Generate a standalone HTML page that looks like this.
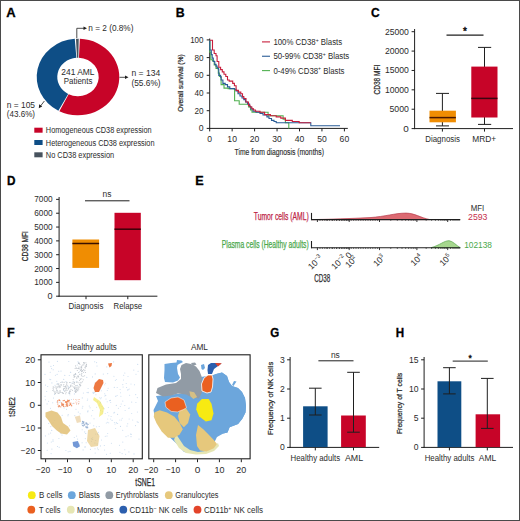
<!DOCTYPE html>
<html><head><meta charset="utf-8"><style>
html,body{margin:0;padding:0;background:#fff;}
#fig{position:relative;width:520px;height:521px;box-sizing:border-box;border:1px solid #4a4a4a;overflow:hidden;background:#fff;}
svg{position:absolute;left:-1px;top:-1px;}
text{font-family:"Liberation Sans",sans-serif;}
</style></head><body><div id="fig">
<svg width="520" height="521" viewBox="0 0 520 521">
<text x="6.30" y="17.10" font-size="12.3" text-anchor="start" fill="#000" stroke="#000" stroke-width="0.3" font-weight="bold" textLength="9.40" lengthAdjust="spacingAndGlyphs" >A</text>
<text x="175.70" y="17.00" font-size="12.3" text-anchor="start" fill="#000" stroke="#000" stroke-width="0.3" font-weight="bold" textLength="8.90" lengthAdjust="spacingAndGlyphs" >B</text>
<text x="371.00" y="17.10" font-size="12.3" text-anchor="start" fill="#000" stroke="#000" stroke-width="0.3" font-weight="bold" textLength="8.70" lengthAdjust="spacingAndGlyphs" >C</text>
<text x="7.10" y="185.10" font-size="12.3" text-anchor="start" fill="#000" stroke="#000" stroke-width="0.3" font-weight="bold" textLength="8.50" lengthAdjust="spacingAndGlyphs" >D</text>
<text x="195.20" y="185.10" font-size="12.3" text-anchor="start" fill="#000" stroke="#000" stroke-width="0.3" font-weight="bold" textLength="8.40" lengthAdjust="spacingAndGlyphs" >E</text>
<text x="6.90" y="336.80" font-size="12.3" text-anchor="start" fill="#000" stroke="#000" stroke-width="0.3" font-weight="bold" textLength="7.70" lengthAdjust="spacingAndGlyphs" >F</text>
<text x="270.30" y="336.90" font-size="12.3" text-anchor="start" fill="#000" stroke="#000" stroke-width="0.3" font-weight="bold" textLength="9.00" lengthAdjust="spacingAndGlyphs" >G</text>
<text x="395.70" y="336.90" font-size="12.3" text-anchor="start" fill="#000" stroke="#000" stroke-width="0.3" font-weight="bold" textLength="8.40" lengthAdjust="spacingAndGlyphs" >H</text>
<g transform="translate(0 5.54) scale(1 0.928)">
<path d="M79.87,35.74 A41.3,41.3 0 1 1 59.38,113.86 L68.67,95.48 A20.7,20.7 0 1 0 78.94,56.32 Z" fill="#c70428"/>
<path d="M58.36,113.33 A41.3,41.3 0 0 1 74.76,35.83 L76.38,56.36 A20.7,20.7 0 0 0 68.15,95.21 Z" fill="#0e4e86"/>
<path d="M75.98,35.75 A41.3,41.3 0 0 1 78.72,35.71 L78.36,56.30 A20.7,20.7 0 0 0 76.99,56.32 Z" fill="#48535e"/>
</g>
<text x="61.35" y="75.30" font-size="8.99" text-anchor="start" fill="#2b2b2b" textLength="33.20" lengthAdjust="spacingAndGlyphs" >241 AML</text>
<text x="63.75" y="84.40" font-size="8.99" text-anchor="start" fill="#2b2b2b" textLength="28.60" lengthAdjust="spacingAndGlyphs" >Patients</text>
<path d="M76.8,38 V28.3 H84.5" fill="none" stroke="#1f1f1f" stroke-width="0.8"/>
<path d="M87,28.3 L83.5,26.6 L83.5,30 Z" fill="#1f1f1f"/>
<text x="88.35" y="30.50" font-size="8.99" text-anchor="start" fill="#2b2b2b" textLength="45.10" lengthAdjust="spacingAndGlyphs" >n = 2 (0.8%)</text>
<path d="M119.5,77.3 H126" fill="none" stroke="#1f1f1f" stroke-width="0.8"/>
<path d="M128.5,77.3 L125,75.6 L125,79 Z" fill="#1f1f1f"/>
<text x="131.45" y="76.00" font-size="8.99" text-anchor="start" fill="#2b2b2b" textLength="28.80" lengthAdjust="spacingAndGlyphs" >n = 134</text>
<text x="131.45" y="85.50" font-size="8.99" text-anchor="start" fill="#2b2b2b" textLength="29.20" lengthAdjust="spacingAndGlyphs" >(55.6%)</text>
<path d="M44.4,101 L40.5,106" fill="none" stroke="#1f1f1f" stroke-width="0.8"/>
<path d="M38.8,108.2 L39.2,104.2 L42.2,106.6 Z" fill="#1f1f1f"/>
<text x="6.75" y="108.00" font-size="8.99" text-anchor="start" fill="#2b2b2b" textLength="28.30" lengthAdjust="spacingAndGlyphs" >n = 105</text>
<text x="6.75" y="117.30" font-size="8.99" text-anchor="start" fill="#2b2b2b" textLength="28.30" lengthAdjust="spacingAndGlyphs" >(43.6%)</text>
<rect x="34.30" y="127.70" width="8.30" height="5.00" fill="#c70428"/>
<text x="45.85" y="133.20" font-size="8.99" text-anchor="start" fill="#2b2b2b" textLength="105.80" lengthAdjust="spacingAndGlyphs" >Homogeneous CD38 expression</text>
<rect x="34.30" y="140.00" width="8.30" height="5.00" fill="#0e4e86"/>
<text x="45.85" y="145.50" font-size="8.99" text-anchor="start" fill="#2b2b2b" textLength="108.70" lengthAdjust="spacingAndGlyphs" >Heterogeneous CD38 expression</text>
<rect x="34.30" y="152.30" width="8.30" height="5.00" fill="#48535e"/>
<text x="45.85" y="157.80" font-size="8.99" text-anchor="start" fill="#2b2b2b" textLength="68.30" lengthAdjust="spacingAndGlyphs" >No CD38 expression</text>
<line x1="209.70" y1="38.50" x2="209.70" y2="128.90" stroke="#1f1f1f" stroke-width="1"/>
<line x1="209.20" y1="128.40" x2="347.80" y2="128.40" stroke="#1f1f1f" stroke-width="1"/>
<line x1="206.70" y1="128.40" x2="209.70" y2="128.40" stroke="#1f1f1f" stroke-width="1"/>
<text x="203.50" y="131.40" font-size="9.2" text-anchor="end" fill="#2b2b2b" textLength="4.85" lengthAdjust="spacingAndGlyphs" >0</text>
<line x1="206.70" y1="110.70" x2="209.70" y2="110.70" stroke="#1f1f1f" stroke-width="1"/>
<text x="203.50" y="113.70" font-size="9.2" text-anchor="end" fill="#2b2b2b" textLength="9.10" lengthAdjust="spacingAndGlyphs" >20</text>
<line x1="206.70" y1="93.00" x2="209.70" y2="93.00" stroke="#1f1f1f" stroke-width="1"/>
<text x="203.50" y="96.00" font-size="9.2" text-anchor="end" fill="#2b2b2b" textLength="9.10" lengthAdjust="spacingAndGlyphs" >40</text>
<line x1="206.70" y1="75.30" x2="209.70" y2="75.30" stroke="#1f1f1f" stroke-width="1"/>
<text x="203.50" y="78.30" font-size="9.2" text-anchor="end" fill="#2b2b2b" textLength="9.10" lengthAdjust="spacingAndGlyphs" >60</text>
<line x1="206.70" y1="57.60" x2="209.70" y2="57.60" stroke="#1f1f1f" stroke-width="1"/>
<text x="203.50" y="60.60" font-size="9.2" text-anchor="end" fill="#2b2b2b" textLength="9.10" lengthAdjust="spacingAndGlyphs" >80</text>
<line x1="206.70" y1="39.90" x2="209.70" y2="39.90" stroke="#1f1f1f" stroke-width="1"/>
<text x="203.50" y="42.90" font-size="9.2" text-anchor="end" fill="#2b2b2b" textLength="13.35" lengthAdjust="spacingAndGlyphs" >100</text>
<line x1="209.70" y1="128.40" x2="209.70" y2="131.40" stroke="#1f1f1f" stroke-width="1"/>
<text x="209.70" y="141.80" font-size="9.2" text-anchor="middle" fill="#2b2b2b" textLength="4.78" lengthAdjust="spacingAndGlyphs" >0</text>
<line x1="232.15" y1="128.40" x2="232.15" y2="131.40" stroke="#1f1f1f" stroke-width="1"/>
<text x="232.15" y="141.80" font-size="9.2" text-anchor="middle" fill="#2b2b2b" textLength="9.57" lengthAdjust="spacingAndGlyphs" >10</text>
<line x1="254.60" y1="128.40" x2="254.60" y2="131.40" stroke="#1f1f1f" stroke-width="1"/>
<text x="254.60" y="141.80" font-size="9.2" text-anchor="middle" fill="#2b2b2b" textLength="9.57" lengthAdjust="spacingAndGlyphs" >20</text>
<line x1="277.05" y1="128.40" x2="277.05" y2="131.40" stroke="#1f1f1f" stroke-width="1"/>
<text x="277.05" y="141.80" font-size="9.2" text-anchor="middle" fill="#2b2b2b" textLength="9.57" lengthAdjust="spacingAndGlyphs" >30</text>
<line x1="299.50" y1="128.40" x2="299.50" y2="131.40" stroke="#1f1f1f" stroke-width="1"/>
<text x="299.50" y="141.80" font-size="9.2" text-anchor="middle" fill="#2b2b2b" textLength="9.57" lengthAdjust="spacingAndGlyphs" >40</text>
<line x1="321.95" y1="128.40" x2="321.95" y2="131.40" stroke="#1f1f1f" stroke-width="1"/>
<text x="321.95" y="141.80" font-size="9.2" text-anchor="middle" fill="#2b2b2b" textLength="9.57" lengthAdjust="spacingAndGlyphs" >50</text>
<line x1="344.40" y1="128.40" x2="344.40" y2="131.40" stroke="#1f1f1f" stroke-width="1"/>
<text x="344.40" y="141.80" font-size="9.2" text-anchor="middle" fill="#2b2b2b" textLength="9.57" lengthAdjust="spacingAndGlyphs" >60</text>
<text x="183.01" y="83.10" font-size="8.1" text-anchor="middle" fill="#2b2b2b" stroke="#2b2b2b" stroke-width="0.25" textLength="57.50" lengthAdjust="spacingAndGlyphs" transform="rotate(-90 183.01 83.10)" >Overall survival (%)</text>
<text x="234.55" y="154.60" font-size="9.63" text-anchor="start" fill="#2b2b2b" stroke="#2b2b2b" stroke-width="0.15" textLength="89.40" lengthAdjust="spacingAndGlyphs" >Time from diagnosis (months)</text>
<path d="M209.8,40.2 V52.3 H210.8 V59.8 H212.5 V61 H214.2 V65 H216 V68.4 H218.3 V73.1 H219.4 V76.5 H221.1 V84.6 H224 V88.1 H228.1 V88.6 H234.6 V100.8 H239.2 V104.2 H248.5 V107 H250.5 V110 H252 V112.3 H268.1 V115.8 H283.1 V119.2 H285.4 V122.7 H288.8 V128.4" fill="none" stroke="#52b152" stroke-width="1.1"/>
<path d="M209.8,40.2 V50 H211.3 V54.6 H212.2 V58.1 H213.3 V61.5 H214.8 V64.4 H216 V66.1 H217.1 V67.9 H218.3 V69 H218.8 V75.4 H220.6 V77.1 H221.1 V80 H222.9 V83.4 H225.2 V84.6 H227.5 V86.9 H229.8 V88.6 H234.4 V89.2 H236 V91 H238 V93.8 H240 V96 H242 V98 H243.8 V99.6 H245.5 V102 H247.5 V104 H249.6 V106.5 H251 V109 H253 V111.2 H256 V112.3 H260 V113.5 H263 V115 H266.9 V116.9 H269 V118.5 H271.5 V120.4 H274 V121.5 H276.2 V122.7 H310.8 V125.8 H340" fill="none" stroke="#2a5c96" stroke-width="1.1"/>
<path d="M209.8,40.2 H212.5 V50 H214.2 V53.5 H216 V55.8 H217.1 V61.5 H218.8 V67.3 H220.6 V69.6 H222.3 V71.9 H224 V74.2 H225.8 V76.5 H227.5 V80 H229.2 V81.1 H232.7 V83.4 H234.4 V85.7 H236.1 V90.4 H238.4 V92.1 H240.8 V93.8 H242.5 V96.5 H243.8 V98.5 H246 V102 H248.5 V105.4 H250 V107 H251.9 V108.8 H253.5 V110 H255.4 V111.2 H260 V112.3 H264.6 V114.6 H270.4 V115.8 H276.2 V116.9 H280.8 V118.1 H285.4 V120.4 H292.3 V121.5 H299.2 V122.7 H310.8" fill="none" stroke="#c81e3c" stroke-width="1.1"/>
<line x1="262.00" y1="41.90" x2="270.00" y2="41.90" stroke="#c81e3c" stroke-width="1.1"/>
<text x="273.4" y="44.90" font-size="8.4" fill="#2b2b2b"  textLength="68.8" lengthAdjust="spacingAndGlyphs">100% CD38<tspan font-size="5.5" dy="-3.2">+</tspan><tspan dy="3.2"> Blasts</tspan></text>
<line x1="262.00" y1="56.25" x2="270.00" y2="56.25" stroke="#2a5c96" stroke-width="1.1"/>
<text x="273.4" y="59.25" font-size="8.4" fill="#2b2b2b"  textLength="75.9" lengthAdjust="spacingAndGlyphs">50-99% CD38<tspan font-size="5.5" dy="-3.2">+</tspan><tspan dy="3.2"> Blasts</tspan></text>
<line x1="262.00" y1="70.60" x2="270.00" y2="70.60" stroke="#52b152" stroke-width="1.1"/>
<text x="273.4" y="73.60" font-size="8.4" fill="#2b2b2b"  textLength="71.1" lengthAdjust="spacingAndGlyphs">0-49% CD38<tspan font-size="5.5" dy="-3.2">+</tspan><tspan dy="3.2"> Blasts</tspan></text>
<line x1="414.60" y1="29.00" x2="414.60" y2="129.10" stroke="#1f1f1f" stroke-width="1"/>
<line x1="414.10" y1="128.60" x2="513.00" y2="128.60" stroke="#1f1f1f" stroke-width="1"/>
<line x1="411.60" y1="128.60" x2="414.60" y2="128.60" stroke="#1f1f1f" stroke-width="1"/>
<text x="408.90" y="131.60" font-size="9.2" text-anchor="end" fill="#2b2b2b" textLength="5.52" lengthAdjust="spacingAndGlyphs" >0</text>
<line x1="411.60" y1="109.22" x2="414.60" y2="109.22" stroke="#1f1f1f" stroke-width="1"/>
<text x="408.90" y="112.22" font-size="9.2" text-anchor="end" fill="#2b2b2b" textLength="19.38" lengthAdjust="spacingAndGlyphs" >5000</text>
<line x1="411.60" y1="89.84" x2="414.60" y2="89.84" stroke="#1f1f1f" stroke-width="1"/>
<text x="408.90" y="92.84" font-size="9.2" text-anchor="end" fill="#2b2b2b" textLength="24.00" lengthAdjust="spacingAndGlyphs" >10000</text>
<line x1="411.60" y1="70.46" x2="414.60" y2="70.46" stroke="#1f1f1f" stroke-width="1"/>
<text x="408.90" y="73.46" font-size="9.2" text-anchor="end" fill="#2b2b2b" textLength="24.00" lengthAdjust="spacingAndGlyphs" >15000</text>
<line x1="411.60" y1="51.08" x2="414.60" y2="51.08" stroke="#1f1f1f" stroke-width="1"/>
<text x="408.90" y="54.08" font-size="9.2" text-anchor="end" fill="#2b2b2b" textLength="24.00" lengthAdjust="spacingAndGlyphs" >20000</text>
<line x1="411.60" y1="31.70" x2="414.60" y2="31.70" stroke="#1f1f1f" stroke-width="1"/>
<text x="408.90" y="34.70" font-size="9.2" text-anchor="end" fill="#2b2b2b" textLength="24.00" lengthAdjust="spacingAndGlyphs" >25000</text>
<text x="379.61" y="79.60" font-size="9.2" text-anchor="middle" fill="#2b2b2b" stroke="#2b2b2b" stroke-width="0.25" textLength="29.70" lengthAdjust="spacingAndGlyphs" transform="rotate(-90 379.61 79.60)" >CD38 MFI</text>
<line x1="442.40" y1="93.40" x2="442.40" y2="125.90" stroke="#1f1f1f" stroke-width="1"/>
<line x1="436.00" y1="93.40" x2="449.00" y2="93.40" stroke="#1f1f1f" stroke-width="1"/>
<line x1="436.00" y1="125.90" x2="449.00" y2="125.90" stroke="#1f1f1f" stroke-width="1"/>
<rect x="429.50" y="110.70" width="26.40" height="11.60" fill="#f08d02"/>
<line x1="429.50" y1="117.60" x2="455.90" y2="117.60" stroke="#4a1800" stroke-width="1.5"/>
<line x1="484.50" y1="47.40" x2="484.50" y2="124.40" stroke="#1f1f1f" stroke-width="1"/>
<line x1="478.00" y1="47.40" x2="491.20" y2="47.40" stroke="#1f1f1f" stroke-width="1"/>
<line x1="478.00" y1="124.40" x2="491.20" y2="124.40" stroke="#1f1f1f" stroke-width="1"/>
<rect x="471.30" y="66.60" width="26.20" height="50.90" fill="#c70428"/>
<line x1="471.30" y1="98.40" x2="497.50" y2="98.40" stroke="#3a0510" stroke-width="1.5"/>
<line x1="442.40" y1="128.60" x2="442.40" y2="131.60" stroke="#1f1f1f" stroke-width="1"/>
<line x1="484.50" y1="128.60" x2="484.50" y2="131.60" stroke="#1f1f1f" stroke-width="1"/>
<text x="425.25" y="141.80" font-size="9.2" text-anchor="start" fill="#2b2b2b" textLength="34.70" lengthAdjust="spacingAndGlyphs" >Diagnosis</text>
<text x="472.35" y="141.80" font-size="9.2" text-anchor="start" fill="#2b2b2b" textLength="23.90" lengthAdjust="spacingAndGlyphs" >MRD+</text>
<line x1="446.50" y1="35.10" x2="483.50" y2="35.10" stroke="#1f1f1f" stroke-width="1.1"/>
<text x="465.00" y="34.60" font-size="10" text-anchor="middle" fill="#111" stroke="#111" stroke-width="0.45" >*</text>
<line x1="59.10" y1="197.00" x2="59.10" y2="296.70" stroke="#1f1f1f" stroke-width="1"/>
<line x1="58.60" y1="296.20" x2="157.40" y2="296.20" stroke="#1f1f1f" stroke-width="1"/>
<line x1="56.10" y1="296.20" x2="59.10" y2="296.20" stroke="#1f1f1f" stroke-width="1"/>
<text x="52.60" y="299.20" font-size="9.2" text-anchor="end" fill="#2b2b2b" textLength="5.05" lengthAdjust="spacingAndGlyphs" >0</text>
<line x1="56.10" y1="282.37" x2="59.10" y2="282.37" stroke="#1f1f1f" stroke-width="1"/>
<text x="52.60" y="285.37" font-size="9.2" text-anchor="end" fill="#2b2b2b" textLength="18.40" lengthAdjust="spacingAndGlyphs" >1000</text>
<line x1="56.10" y1="268.54" x2="59.10" y2="268.54" stroke="#1f1f1f" stroke-width="1"/>
<text x="52.60" y="271.54" font-size="9.2" text-anchor="end" fill="#2b2b2b" textLength="18.40" lengthAdjust="spacingAndGlyphs" >2000</text>
<line x1="56.10" y1="254.71" x2="59.10" y2="254.71" stroke="#1f1f1f" stroke-width="1"/>
<text x="52.60" y="257.71" font-size="9.2" text-anchor="end" fill="#2b2b2b" textLength="18.40" lengthAdjust="spacingAndGlyphs" >3000</text>
<line x1="56.10" y1="240.88" x2="59.10" y2="240.88" stroke="#1f1f1f" stroke-width="1"/>
<text x="52.60" y="243.88" font-size="9.2" text-anchor="end" fill="#2b2b2b" textLength="18.40" lengthAdjust="spacingAndGlyphs" >4000</text>
<line x1="56.10" y1="227.05" x2="59.10" y2="227.05" stroke="#1f1f1f" stroke-width="1"/>
<text x="52.60" y="230.05" font-size="9.2" text-anchor="end" fill="#2b2b2b" textLength="18.40" lengthAdjust="spacingAndGlyphs" >5000</text>
<line x1="56.10" y1="213.22" x2="59.10" y2="213.22" stroke="#1f1f1f" stroke-width="1"/>
<text x="52.60" y="216.22" font-size="9.2" text-anchor="end" fill="#2b2b2b" textLength="18.40" lengthAdjust="spacingAndGlyphs" >6000</text>
<line x1="56.10" y1="199.39" x2="59.10" y2="199.39" stroke="#1f1f1f" stroke-width="1"/>
<text x="52.60" y="202.39" font-size="9.2" text-anchor="end" fill="#2b2b2b" textLength="18.40" lengthAdjust="spacingAndGlyphs" >7000</text>
<text x="27.91" y="246.20" font-size="9.2" text-anchor="middle" fill="#2b2b2b" stroke="#2b2b2b" stroke-width="0.25" textLength="30.30" lengthAdjust="spacingAndGlyphs" transform="rotate(-90 27.91 246.20)" >CD38 MFI</text>
<rect x="72.40" y="239.50" width="26.70" height="28.40" fill="#f08d02"/>
<line x1="72.40" y1="243.50" x2="99.10" y2="243.50" stroke="#3a1000" stroke-width="1.5"/>
<rect x="114.50" y="212.80" width="26.30" height="67.40" fill="#c70428"/>
<line x1="114.50" y1="229.20" x2="140.80" y2="229.20" stroke="#3a0008" stroke-width="1.5"/>
<line x1="86.00" y1="296.20" x2="86.00" y2="299.20" stroke="#1f1f1f" stroke-width="1"/>
<line x1="127.80" y1="296.20" x2="127.80" y2="299.20" stroke="#1f1f1f" stroke-width="1"/>
<text x="68.55" y="309.20" font-size="9.2" text-anchor="start" fill="#2b2b2b" textLength="34.80" lengthAdjust="spacingAndGlyphs" >Diagnosis</text>
<text x="113.55" y="309.20" font-size="9.2" text-anchor="start" fill="#2b2b2b" textLength="28.60" lengthAdjust="spacingAndGlyphs" >Relapse</text>
<line x1="85.00" y1="200.80" x2="129.50" y2="200.80" stroke="#1f1f1f" stroke-width="1"/>
<text x="107.00" y="196.50" font-size="8.99" text-anchor="middle" fill="#2b2b2b" textLength="8.87" lengthAdjust="spacingAndGlyphs" >ns</text>
<text x="253.75" y="220.20" font-size="10.27" text-anchor="start" fill="#be2446" stroke="#be2446" stroke-width="0.25" textLength="55.00" lengthAdjust="spacingAndGlyphs" >Tumor cells (AML)</text>
<text x="221.75" y="248.00" font-size="10.27" text-anchor="start" fill="#4aa84a" stroke="#4aa84a" stroke-width="0.25" textLength="87.00" lengthAdjust="spacingAndGlyphs" >Plasma cells (Healthy adults)</text>
<path d="M312,219.6 C330,219.29999999999998 350,218.6 370,217.6 C385,216.6 395,213.1 406,213.1 C415,213.29999999999998 420,217.6 430,219.6 Z" fill="#dc6a72" stroke="#b83c4c" stroke-width="0.7"/>
<line x1="311.50" y1="212.90" x2="311.50" y2="220.10" stroke="#1f1f1f" stroke-width="1.1"/>
<line x1="311.00" y1="219.60" x2="460.30" y2="219.60" stroke="#1f1f1f" stroke-width="1.1"/>
<line x1="317.40" y1="219.60" x2="317.40" y2="222.00" stroke="#1f1f1f" stroke-width="0.9"/>
<line x1="349.20" y1="219.60" x2="349.20" y2="222.00" stroke="#1f1f1f" stroke-width="0.9"/>
<line x1="379.50" y1="219.60" x2="379.50" y2="222.00" stroke="#1f1f1f" stroke-width="0.9"/>
<line x1="416.90" y1="219.60" x2="416.90" y2="222.00" stroke="#1f1f1f" stroke-width="0.9"/>
<line x1="447.70" y1="219.60" x2="447.70" y2="222.00" stroke="#1f1f1f" stroke-width="0.9"/>
<line x1="326.97" y1="219.60" x2="326.97" y2="220.90" stroke="#1f1f1f" stroke-width="0.6"/>
<line x1="332.57" y1="219.60" x2="332.57" y2="220.90" stroke="#1f1f1f" stroke-width="0.6"/>
<line x1="336.55" y1="219.60" x2="336.55" y2="220.90" stroke="#1f1f1f" stroke-width="0.6"/>
<line x1="339.63" y1="219.60" x2="339.63" y2="220.90" stroke="#1f1f1f" stroke-width="0.6"/>
<line x1="342.15" y1="219.60" x2="342.15" y2="220.90" stroke="#1f1f1f" stroke-width="0.6"/>
<line x1="344.27" y1="219.60" x2="344.27" y2="220.90" stroke="#1f1f1f" stroke-width="0.6"/>
<line x1="346.12" y1="219.60" x2="346.12" y2="220.90" stroke="#1f1f1f" stroke-width="0.6"/>
<line x1="347.74" y1="219.60" x2="347.74" y2="220.90" stroke="#1f1f1f" stroke-width="0.6"/>
<line x1="390.76" y1="219.60" x2="390.76" y2="220.90" stroke="#1f1f1f" stroke-width="0.6"/>
<line x1="397.34" y1="219.60" x2="397.34" y2="220.90" stroke="#1f1f1f" stroke-width="0.6"/>
<line x1="402.02" y1="219.60" x2="402.02" y2="220.90" stroke="#1f1f1f" stroke-width="0.6"/>
<line x1="405.64" y1="219.60" x2="405.64" y2="220.90" stroke="#1f1f1f" stroke-width="0.6"/>
<line x1="408.60" y1="219.60" x2="408.60" y2="220.90" stroke="#1f1f1f" stroke-width="0.6"/>
<line x1="411.11" y1="219.60" x2="411.11" y2="220.90" stroke="#1f1f1f" stroke-width="0.6"/>
<line x1="413.28" y1="219.60" x2="413.28" y2="220.90" stroke="#1f1f1f" stroke-width="0.6"/>
<line x1="415.19" y1="219.60" x2="415.19" y2="220.90" stroke="#1f1f1f" stroke-width="0.6"/>
<line x1="426.17" y1="219.60" x2="426.17" y2="220.90" stroke="#1f1f1f" stroke-width="0.6"/>
<line x1="431.60" y1="219.60" x2="431.60" y2="220.90" stroke="#1f1f1f" stroke-width="0.6"/>
<line x1="435.44" y1="219.60" x2="435.44" y2="220.90" stroke="#1f1f1f" stroke-width="0.6"/>
<line x1="438.43" y1="219.60" x2="438.43" y2="220.90" stroke="#1f1f1f" stroke-width="0.6"/>
<line x1="440.87" y1="219.60" x2="440.87" y2="220.90" stroke="#1f1f1f" stroke-width="0.6"/>
<line x1="442.93" y1="219.60" x2="442.93" y2="220.90" stroke="#1f1f1f" stroke-width="0.6"/>
<line x1="444.72" y1="219.60" x2="444.72" y2="220.90" stroke="#1f1f1f" stroke-width="0.6"/>
<line x1="446.29" y1="219.60" x2="446.29" y2="220.90" stroke="#1f1f1f" stroke-width="0.6"/>
<line x1="320.00" y1="219.60" x2="320.00" y2="220.90" stroke="#1f1f1f" stroke-width="0.6"/>
<line x1="322.40" y1="219.60" x2="322.40" y2="220.90" stroke="#1f1f1f" stroke-width="0.6"/>
<line x1="324.80" y1="219.60" x2="324.80" y2="220.90" stroke="#1f1f1f" stroke-width="0.6"/>
<line x1="327.20" y1="219.60" x2="327.20" y2="220.90" stroke="#1f1f1f" stroke-width="0.6"/>
<line x1="329.60" y1="219.60" x2="329.60" y2="220.90" stroke="#1f1f1f" stroke-width="0.6"/>
<line x1="332.00" y1="219.60" x2="332.00" y2="220.90" stroke="#1f1f1f" stroke-width="0.6"/>
<line x1="334.40" y1="219.60" x2="334.40" y2="220.90" stroke="#1f1f1f" stroke-width="0.6"/>
<line x1="336.80" y1="219.60" x2="336.80" y2="220.90" stroke="#1f1f1f" stroke-width="0.6"/>
<line x1="339.20" y1="219.60" x2="339.20" y2="220.90" stroke="#1f1f1f" stroke-width="0.6"/>
<line x1="341.60" y1="219.60" x2="341.60" y2="220.90" stroke="#1f1f1f" stroke-width="0.6"/>
<line x1="344.00" y1="219.60" x2="344.00" y2="220.90" stroke="#1f1f1f" stroke-width="0.6"/>
<line x1="346.40" y1="219.60" x2="346.40" y2="220.90" stroke="#1f1f1f" stroke-width="0.6"/>
<line x1="348.80" y1="219.60" x2="348.80" y2="220.90" stroke="#1f1f1f" stroke-width="0.6"/>
<line x1="351.20" y1="219.60" x2="351.20" y2="220.90" stroke="#1f1f1f" stroke-width="0.6"/>
<line x1="353.60" y1="219.60" x2="353.60" y2="220.90" stroke="#1f1f1f" stroke-width="0.6"/>
<line x1="356.00" y1="219.60" x2="356.00" y2="220.90" stroke="#1f1f1f" stroke-width="0.6"/>
<line x1="358.40" y1="219.60" x2="358.40" y2="220.90" stroke="#1f1f1f" stroke-width="0.6"/>
<line x1="360.80" y1="219.60" x2="360.80" y2="220.90" stroke="#1f1f1f" stroke-width="0.6"/>
<line x1="363.20" y1="219.60" x2="363.20" y2="220.90" stroke="#1f1f1f" stroke-width="0.6"/>
<line x1="365.60" y1="219.60" x2="365.60" y2="220.90" stroke="#1f1f1f" stroke-width="0.6"/>
<line x1="368.00" y1="219.60" x2="368.00" y2="220.90" stroke="#1f1f1f" stroke-width="0.6"/>
<line x1="370.40" y1="219.60" x2="370.40" y2="220.90" stroke="#1f1f1f" stroke-width="0.6"/>
<line x1="372.80" y1="219.60" x2="372.80" y2="220.90" stroke="#1f1f1f" stroke-width="0.6"/>
<line x1="375.20" y1="219.60" x2="375.20" y2="220.90" stroke="#1f1f1f" stroke-width="0.6"/>
<line x1="377.60" y1="219.60" x2="377.60" y2="220.90" stroke="#1f1f1f" stroke-width="0.6"/>
<line x1="450.50" y1="219.60" x2="450.50" y2="220.90" stroke="#1f1f1f" stroke-width="0.6"/>
<line x1="453.00" y1="219.60" x2="453.00" y2="220.90" stroke="#1f1f1f" stroke-width="0.6"/>
<line x1="455.00" y1="219.60" x2="455.00" y2="220.90" stroke="#1f1f1f" stroke-width="0.6"/>
<line x1="457.00" y1="219.60" x2="457.00" y2="220.90" stroke="#1f1f1f" stroke-width="0.6"/>
<line x1="459.00" y1="219.60" x2="459.00" y2="220.90" stroke="#1f1f1f" stroke-width="0.6"/>
<path d="M431,247.7 C440,245.2 444,240.7 449,240.7 C453,241.2 456,245.2 460.3,247.7 Z" fill="#a6d78e" stroke="#58a64c" stroke-width="0.7"/>
<line x1="311.50" y1="241.00" x2="311.50" y2="248.20" stroke="#1f1f1f" stroke-width="1.1"/>
<line x1="311.00" y1="247.70" x2="460.30" y2="247.70" stroke="#1f1f1f" stroke-width="1.1"/>
<line x1="317.40" y1="247.70" x2="317.40" y2="250.10" stroke="#1f1f1f" stroke-width="0.9"/>
<line x1="349.20" y1="247.70" x2="349.20" y2="250.10" stroke="#1f1f1f" stroke-width="0.9"/>
<line x1="379.50" y1="247.70" x2="379.50" y2="250.10" stroke="#1f1f1f" stroke-width="0.9"/>
<line x1="416.90" y1="247.70" x2="416.90" y2="250.10" stroke="#1f1f1f" stroke-width="0.9"/>
<line x1="447.70" y1="247.70" x2="447.70" y2="250.10" stroke="#1f1f1f" stroke-width="0.9"/>
<line x1="326.97" y1="247.70" x2="326.97" y2="249.00" stroke="#1f1f1f" stroke-width="0.6"/>
<line x1="332.57" y1="247.70" x2="332.57" y2="249.00" stroke="#1f1f1f" stroke-width="0.6"/>
<line x1="336.55" y1="247.70" x2="336.55" y2="249.00" stroke="#1f1f1f" stroke-width="0.6"/>
<line x1="339.63" y1="247.70" x2="339.63" y2="249.00" stroke="#1f1f1f" stroke-width="0.6"/>
<line x1="342.15" y1="247.70" x2="342.15" y2="249.00" stroke="#1f1f1f" stroke-width="0.6"/>
<line x1="344.27" y1="247.70" x2="344.27" y2="249.00" stroke="#1f1f1f" stroke-width="0.6"/>
<line x1="346.12" y1="247.70" x2="346.12" y2="249.00" stroke="#1f1f1f" stroke-width="0.6"/>
<line x1="347.74" y1="247.70" x2="347.74" y2="249.00" stroke="#1f1f1f" stroke-width="0.6"/>
<line x1="390.76" y1="247.70" x2="390.76" y2="249.00" stroke="#1f1f1f" stroke-width="0.6"/>
<line x1="397.34" y1="247.70" x2="397.34" y2="249.00" stroke="#1f1f1f" stroke-width="0.6"/>
<line x1="402.02" y1="247.70" x2="402.02" y2="249.00" stroke="#1f1f1f" stroke-width="0.6"/>
<line x1="405.64" y1="247.70" x2="405.64" y2="249.00" stroke="#1f1f1f" stroke-width="0.6"/>
<line x1="408.60" y1="247.70" x2="408.60" y2="249.00" stroke="#1f1f1f" stroke-width="0.6"/>
<line x1="411.11" y1="247.70" x2="411.11" y2="249.00" stroke="#1f1f1f" stroke-width="0.6"/>
<line x1="413.28" y1="247.70" x2="413.28" y2="249.00" stroke="#1f1f1f" stroke-width="0.6"/>
<line x1="415.19" y1="247.70" x2="415.19" y2="249.00" stroke="#1f1f1f" stroke-width="0.6"/>
<line x1="426.17" y1="247.70" x2="426.17" y2="249.00" stroke="#1f1f1f" stroke-width="0.6"/>
<line x1="431.60" y1="247.70" x2="431.60" y2="249.00" stroke="#1f1f1f" stroke-width="0.6"/>
<line x1="435.44" y1="247.70" x2="435.44" y2="249.00" stroke="#1f1f1f" stroke-width="0.6"/>
<line x1="438.43" y1="247.70" x2="438.43" y2="249.00" stroke="#1f1f1f" stroke-width="0.6"/>
<line x1="440.87" y1="247.70" x2="440.87" y2="249.00" stroke="#1f1f1f" stroke-width="0.6"/>
<line x1="442.93" y1="247.70" x2="442.93" y2="249.00" stroke="#1f1f1f" stroke-width="0.6"/>
<line x1="444.72" y1="247.70" x2="444.72" y2="249.00" stroke="#1f1f1f" stroke-width="0.6"/>
<line x1="446.29" y1="247.70" x2="446.29" y2="249.00" stroke="#1f1f1f" stroke-width="0.6"/>
<line x1="320.00" y1="247.70" x2="320.00" y2="249.00" stroke="#1f1f1f" stroke-width="0.6"/>
<line x1="322.40" y1="247.70" x2="322.40" y2="249.00" stroke="#1f1f1f" stroke-width="0.6"/>
<line x1="324.80" y1="247.70" x2="324.80" y2="249.00" stroke="#1f1f1f" stroke-width="0.6"/>
<line x1="327.20" y1="247.70" x2="327.20" y2="249.00" stroke="#1f1f1f" stroke-width="0.6"/>
<line x1="329.60" y1="247.70" x2="329.60" y2="249.00" stroke="#1f1f1f" stroke-width="0.6"/>
<line x1="332.00" y1="247.70" x2="332.00" y2="249.00" stroke="#1f1f1f" stroke-width="0.6"/>
<line x1="334.40" y1="247.70" x2="334.40" y2="249.00" stroke="#1f1f1f" stroke-width="0.6"/>
<line x1="336.80" y1="247.70" x2="336.80" y2="249.00" stroke="#1f1f1f" stroke-width="0.6"/>
<line x1="339.20" y1="247.70" x2="339.20" y2="249.00" stroke="#1f1f1f" stroke-width="0.6"/>
<line x1="341.60" y1="247.70" x2="341.60" y2="249.00" stroke="#1f1f1f" stroke-width="0.6"/>
<line x1="344.00" y1="247.70" x2="344.00" y2="249.00" stroke="#1f1f1f" stroke-width="0.6"/>
<line x1="346.40" y1="247.70" x2="346.40" y2="249.00" stroke="#1f1f1f" stroke-width="0.6"/>
<line x1="348.80" y1="247.70" x2="348.80" y2="249.00" stroke="#1f1f1f" stroke-width="0.6"/>
<line x1="351.20" y1="247.70" x2="351.20" y2="249.00" stroke="#1f1f1f" stroke-width="0.6"/>
<line x1="353.60" y1="247.70" x2="353.60" y2="249.00" stroke="#1f1f1f" stroke-width="0.6"/>
<line x1="356.00" y1="247.70" x2="356.00" y2="249.00" stroke="#1f1f1f" stroke-width="0.6"/>
<line x1="358.40" y1="247.70" x2="358.40" y2="249.00" stroke="#1f1f1f" stroke-width="0.6"/>
<line x1="360.80" y1="247.70" x2="360.80" y2="249.00" stroke="#1f1f1f" stroke-width="0.6"/>
<line x1="363.20" y1="247.70" x2="363.20" y2="249.00" stroke="#1f1f1f" stroke-width="0.6"/>
<line x1="365.60" y1="247.70" x2="365.60" y2="249.00" stroke="#1f1f1f" stroke-width="0.6"/>
<line x1="368.00" y1="247.70" x2="368.00" y2="249.00" stroke="#1f1f1f" stroke-width="0.6"/>
<line x1="370.40" y1="247.70" x2="370.40" y2="249.00" stroke="#1f1f1f" stroke-width="0.6"/>
<line x1="372.80" y1="247.70" x2="372.80" y2="249.00" stroke="#1f1f1f" stroke-width="0.6"/>
<line x1="375.20" y1="247.70" x2="375.20" y2="249.00" stroke="#1f1f1f" stroke-width="0.6"/>
<line x1="377.60" y1="247.70" x2="377.60" y2="249.00" stroke="#1f1f1f" stroke-width="0.6"/>
<line x1="450.50" y1="247.70" x2="450.50" y2="249.00" stroke="#1f1f1f" stroke-width="0.6"/>
<line x1="453.00" y1="247.70" x2="453.00" y2="249.00" stroke="#1f1f1f" stroke-width="0.6"/>
<line x1="455.00" y1="247.70" x2="455.00" y2="249.00" stroke="#1f1f1f" stroke-width="0.6"/>
<line x1="457.00" y1="247.70" x2="457.00" y2="249.00" stroke="#1f1f1f" stroke-width="0.6"/>
<line x1="459.00" y1="247.70" x2="459.00" y2="249.00" stroke="#1f1f1f" stroke-width="0.6"/>
<text x="470.75" y="210.50" font-size="8.77" text-anchor="start" fill="#2b2b2b" textLength="13.50" lengthAdjust="spacingAndGlyphs" >MFI</text>
<text x="468.05" y="220.20" font-size="8.99" text-anchor="start" fill="#c5304e" textLength="19.40" lengthAdjust="spacingAndGlyphs" >2593</text>
<text x="464.15" y="248.00" font-size="8.99" text-anchor="start" fill="#4aa84a" textLength="27.80" lengthAdjust="spacingAndGlyphs" >102138</text>
<g transform="translate(323.0,258.6) rotate(-45)"><text x="0" y="0" font-size="8.6" text-anchor="end" fill="#2b2b2b" >10<tspan font-size="5.8" dy="-3.3">−3</tspan></text></g>
<g transform="translate(346.3,258.6) rotate(-45)"><text x="0" y="0" font-size="8.6" text-anchor="end" fill="#2b2b2b" >10<tspan font-size="5.8" dy="-3.3">−2</tspan></text></g>
<g transform="translate(352.4,255.6) rotate(-45)"><text x="0" y="0" font-size="8.6" text-anchor="end" fill="#2b2b2b" >0</text></g>
<g transform="translate(357.7,259.3) rotate(-45)"><text x="0" y="0" font-size="8.6" text-anchor="end" fill="#2b2b2b" >10<tspan font-size="5.8" dy="-3.3">2</tspan></text></g>
<g transform="translate(385.7,258.0) rotate(-45)"><text x="0" y="0" font-size="8.6" text-anchor="end" fill="#2b2b2b" >10<tspan font-size="5.8" dy="-3.3">3</tspan></text></g>
<g transform="translate(423.1,257.5) rotate(-45)"><text x="0" y="0" font-size="8.6" text-anchor="end" fill="#2b2b2b" >10<tspan font-size="5.8" dy="-3.3">4</tspan></text></g>
<g transform="translate(452.0,257.5) rotate(-45)"><text x="0" y="0" font-size="8.6" text-anchor="end" fill="#2b2b2b" >10<tspan font-size="5.8" dy="-3.3">5</tspan></text></g>
<text x="314.35" y="282.00" font-size="10.27" text-anchor="start" fill="#2b2b2b" stroke="#2b2b2b" stroke-width="0.25" textLength="15.90" lengthAdjust="spacingAndGlyphs" >CD38</text>
<text x="67.05" y="349.80" font-size="9.2" text-anchor="start" fill="#2b2b2b" textLength="49.70" lengthAdjust="spacingAndGlyphs" >Healthy adults</text>
<text x="190.95" y="349.90" font-size="9.2" text-anchor="start" fill="#2b2b2b" textLength="17.00" lengthAdjust="spacingAndGlyphs" >AML</text>
<path d="M156.0,396.0 L186.0,393.0 L200.0,393.0 L201.0,377.0 L213.0,375.0 L216.0,374.0 L222.0,372.5 L227.0,376.0 L229.0,382.0 L232.0,386.0 L238.0,388.0 L242.0,392.0 L245.0,398.0 L246.0,406.0 L245.5,412.4 L242.3,418.8 L238.1,424.0 L229.6,427.2 L227.5,432.5 L223.3,433.5 L217.0,437.0 L212.0,447.0 L204.0,452.0 L196.0,453.5 L184.0,452.0 L177.0,444.0 L165.0,433.0 L155.0,419.0 L153.5,410.0 L158.0,401.0 Z" fill="#6ca6dc" opacity="1" />
<path d="M212.0,376.0 L216.0,374.0 L222.0,372.5 L227.0,376.0 L229.0,382.0 L232.0,386.0 L238.0,388.0 L242.0,392.0 L245.0,398.0 L246.0,406.0 L245.5,412.4 L242.3,418.8 L238.1,424.0 L229.6,427.2 L227.5,432.5 L223.3,433.5 L217.0,431.4 L209.6,433.5 L204.0,431.0 L202.0,440.0 L200.0,446.0 L194.4,450.4 L187.0,451.5 L180.7,448.3 L178.6,444.0 L179.6,438.8 L186.0,432.5 L190.0,424.0 L190.0,414.0 L186.0,407.0 L182.0,398.0 L186.0,393.0 L200.0,393.0 L205.0,394.0 L212.0,393.0 L213.0,385.0 Z" fill="#6ca6dc" opacity="1" />
<path d="M234.0,381.0 L236.5,381.5 L233.5,386.0 L232.0,385.0 Z" fill="#6ca6dc" opacity="1" />
<path d="M176.0,434.0 L180.0,440.0 L184.0,446.0 L190.0,450.0 L198.0,452.0 L206.0,451.0 L212.0,448.0 L218.0,443.0 L219.0,446.0 L214.0,451.0 L206.0,454.0 L196.0,454.5 L186.0,453.0 L179.0,448.0 L174.0,440.0 Z" fill="#e6e6b4" opacity="1" />
<path d="M181.5,365.0 L186.0,363.0 L191.0,364.0 L196.0,366.5 L199.5,371.0 L201.8,377.0 L202.0,392.0 L199.0,398.5 L192.0,397.5 L186.0,394.5 L178.0,393.5 L171.0,395.5 L163.0,396.5 L156.0,393.0 L157.5,388.0 L166.0,384.5 L176.0,383.0 L181.0,379.0 L181.0,374.0 L180.0,369.0 Z" fill="#919ba5" opacity="1" />
<path d="M191.0,363.0 L195.0,362.5 L196.5,364.5 L193.0,366.0 Z" fill="#919ba5" opacity="1" />
<path d="M164.5,364.0 L171.0,363.0 L176.5,362.5 L177.0,360.0 L181.5,360.5 L183.0,362.0 L180.0,363.5 L177.5,365.0 L177.0,368.0 L178.0,374.0 L180.0,377.5 L178.0,380.5 L173.0,382.5 L165.0,382.0 L164.0,378.0 L164.5,370.0 Z" fill="#6ca6dc" opacity="1" />
<path d="M201.0,365.0 L204.0,364.0 L205.0,368.0 L203.0,370.0 L201.5,369.0 Z" fill="#6ca6dc" opacity="1" />
<path d="M154.3,412.4 L159.6,410.3 L167.0,412.4 L174.4,416.7 L179.6,423.0 L182.8,429.3 L179.6,434.6 L174.4,437.8 L168.0,437.8 L161.7,431.4 L156.4,423.0 L153.8,416.7 Z" fill="#e6c87c" opacity="1" />
<path d="M179.6,410.3 L186.0,408.2 L190.2,414.5 L188.1,423.0 L183.9,427.2 L179.6,423.0 L178.0,416.0 Z" fill="#e6c87c" opacity="1" />
<path d="M198.0,425.1 L203.3,429.3 L208.5,434.6 L213.8,439.9 L217.0,444.1 L213.8,448.3 L206.4,451.5 L200.1,450.4 L197.0,446.0 L196.0,435.0 Z" fill="#e6c87c" opacity="1" />
<path d="M189.4,391.3 L194.2,392.3 L197.1,397.1 L193.3,399.0 L190.4,396.2 Z" fill="#e6c87c" opacity="0.8" />
<path d="M165.0,402.0 L171.0,398.0 L178.0,397.0 L184.0,400.0 L186.5,407.7 L183.9,409.3 L177.5,411.9 L171.2,411.4 L165.9,407.2 Z" fill="#ea6020" opacity="1" stroke="#fff" stroke-width="0.5"/>
<path d="M204.0,378.0 L208.0,375.0 L212.0,375.0 L213.0,379.0 L212.5,387.0 L211.0,392.0 L207.0,393.0 L202.0,391.0 L201.5,384.0 Z" fill="#ea6020" opacity="1" stroke="#fff" stroke-width="0.8"/>
<path d="M208.0,365.0 L211.0,363.0 L216.0,363.0 L221.5,363.5 L218.0,366.0 L214.0,369.0 L212.0,374.0 L208.0,374.0 L207.5,370.0 Z" fill="#2c5fae" opacity="1" />
<path d="M215.0,363.0 L221.8,363.2 L218.0,366.5 Z" fill="#e3442a" opacity="1" />
<path d="M197.1,403.8 L201.9,399.0 L208.7,399.0 L211.5,403.8 L213.5,413.5 L211.5,420.2 L205.8,421.5 L199.0,416.3 L196.2,409.6 Z" fill="#f7ea12" opacity="1" />
<rect x="148.8" y="354.8" width="101.3" height="104" fill="none" stroke="#1f1f1f" stroke-width="1.1"/>
<g fill="#a8c6e6" opacity="0.6"><circle cx="75.8" cy="374.3" r="0.55"/><circle cx="106.8" cy="366.9" r="0.55"/><circle cx="95.9" cy="394.7" r="0.55"/><circle cx="50.5" cy="408.2" r="0.55"/><circle cx="48.6" cy="401.2" r="0.55"/><circle cx="51.6" cy="368.6" r="0.55"/><circle cx="85.3" cy="438.6" r="0.55"/><circle cx="56.8" cy="381.2" r="0.55"/><circle cx="104.6" cy="450.0" r="0.55"/><circle cx="99.8" cy="397.7" r="0.55"/><circle cx="137.7" cy="364.4" r="0.55"/><circle cx="126.6" cy="387.5" r="0.55"/><circle cx="58.7" cy="371.2" r="0.55"/><circle cx="74.3" cy="437.5" r="0.55"/><circle cx="62.2" cy="415.3" r="0.55"/><circle cx="105.7" cy="395.4" r="0.55"/><circle cx="97.0" cy="366.0" r="0.55"/><circle cx="50.7" cy="379.6" r="0.55"/><circle cx="109.6" cy="400.6" r="0.55"/><circle cx="74.8" cy="415.6" r="0.55"/><circle cx="88.1" cy="388.5" r="0.55"/><circle cx="120.5" cy="426.4" r="0.55"/><circle cx="68.2" cy="414.6" r="0.55"/><circle cx="94.9" cy="443.1" r="0.55"/><circle cx="114.3" cy="387.4" r="0.55"/><circle cx="138.1" cy="371.2" r="0.55"/><circle cx="84.7" cy="431.9" r="0.55"/><circle cx="59.4" cy="406.5" r="0.55"/><circle cx="48.7" cy="423.5" r="0.55"/><circle cx="117.6" cy="414.4" r="0.55"/><circle cx="128.2" cy="389.8" r="0.55"/><circle cx="111.1" cy="416.5" r="0.55"/><circle cx="100.1" cy="403.3" r="0.55"/><circle cx="124.8" cy="449.7" r="0.55"/><circle cx="90.0" cy="423.1" r="0.55"/><circle cx="50.8" cy="426.6" r="0.55"/><circle cx="106.5" cy="454.3" r="0.55"/><circle cx="123.1" cy="387.0" r="0.55"/><circle cx="81.7" cy="423.5" r="0.55"/><circle cx="47.1" cy="403.9" r="0.55"/><circle cx="61.0" cy="371.1" r="0.55"/><circle cx="50.6" cy="433.0" r="0.55"/><circle cx="57.3" cy="383.5" r="0.55"/><circle cx="82.1" cy="442.8" r="0.55"/><circle cx="52.7" cy="402.7" r="0.55"/><circle cx="97.2" cy="443.9" r="0.55"/><circle cx="122.8" cy="442.1" r="0.55"/><circle cx="71.5" cy="399.5" r="0.55"/><circle cx="79.1" cy="444.0" r="0.55"/><circle cx="136.0" cy="374.3" r="0.55"/><circle cx="61.7" cy="382.0" r="0.55"/><circle cx="67.2" cy="406.1" r="0.55"/><circle cx="101.0" cy="385.0" r="0.55"/><circle cx="45.4" cy="399.8" r="0.55"/><circle cx="80.1" cy="413.8" r="0.55"/><circle cx="135.5" cy="425.6" r="0.55"/><circle cx="94.0" cy="418.7" r="0.55"/><circle cx="109.2" cy="365.1" r="0.55"/><circle cx="130.5" cy="434.1" r="0.55"/><circle cx="128.1" cy="435.8" r="0.55"/><circle cx="82.3" cy="397.9" r="0.55"/><circle cx="54.8" cy="420.3" r="0.55"/><circle cx="50.9" cy="366.4" r="0.55"/><circle cx="64.8" cy="375.4" r="0.55"/><circle cx="77.3" cy="365.0" r="0.55"/><circle cx="45.0" cy="374.4" r="0.55"/><circle cx="54.6" cy="394.5" r="0.55"/><circle cx="47.4" cy="443.1" r="0.55"/><circle cx="103.3" cy="374.1" r="0.55"/><circle cx="69.0" cy="393.0" r="0.55"/><circle cx="79.6" cy="371.7" r="0.55"/><circle cx="125.6" cy="454.3" r="0.55"/><circle cx="89.3" cy="406.0" r="0.55"/><circle cx="53.2" cy="369.7" r="0.55"/><circle cx="77.6" cy="385.2" r="0.55"/><circle cx="123.7" cy="375.3" r="0.55"/><circle cx="47.2" cy="450.3" r="0.55"/><circle cx="95.2" cy="373.9" r="0.55"/><circle cx="96.6" cy="362.6" r="0.55"/><circle cx="95.2" cy="453.0" r="0.55"/><circle cx="127.0" cy="426.1" r="0.55"/><circle cx="69.8" cy="394.8" r="0.55"/><circle cx="60.9" cy="433.3" r="0.55"/><circle cx="95.6" cy="434.0" r="0.55"/><circle cx="76.3" cy="381.2" r="0.55"/><circle cx="122.1" cy="453.6" r="0.55"/><circle cx="126.0" cy="436.6" r="0.55"/><circle cx="122.7" cy="430.3" r="0.55"/><circle cx="66.5" cy="409.2" r="0.55"/><circle cx="78.8" cy="362.8" r="0.55"/><circle cx="47.7" cy="386.5" r="0.55"/><circle cx="69.6" cy="425.8" r="0.55"/><circle cx="135.9" cy="402.5" r="0.55"/><circle cx="134.0" cy="453.9" r="0.55"/><circle cx="135.7" cy="394.6" r="0.55"/><circle cx="65.9" cy="381.6" r="0.55"/><circle cx="63.7" cy="379.4" r="0.55"/><circle cx="104.3" cy="445.5" r="0.55"/><circle cx="124.8" cy="405.5" r="0.55"/><circle cx="107.0" cy="436.0" r="0.55"/><circle cx="53.1" cy="422.8" r="0.55"/><circle cx="131.4" cy="434.3" r="0.55"/><circle cx="116.3" cy="405.4" r="0.55"/><circle cx="62.0" cy="435.0" r="0.55"/><circle cx="76.6" cy="436.1" r="0.55"/><circle cx="137.3" cy="397.6" r="0.55"/><circle cx="83.1" cy="449.9" r="0.55"/><circle cx="113.9" cy="376.2" r="0.55"/><circle cx="57.1" cy="374.4" r="0.55"/><circle cx="131.0" cy="436.6" r="0.55"/><circle cx="58.9" cy="438.5" r="0.55"/><circle cx="138.1" cy="422.4" r="0.55"/><circle cx="78.3" cy="412.1" r="0.55"/><circle cx="57.4" cy="361.4" r="0.55"/><circle cx="137.2" cy="421.7" r="0.55"/><circle cx="95.0" cy="448.7" r="0.55"/><circle cx="86.2" cy="442.8" r="0.55"/><circle cx="123.5" cy="380.0" r="0.55"/><circle cx="68.9" cy="387.8" r="0.55"/><circle cx="67.9" cy="415.7" r="0.55"/><circle cx="69.6" cy="399.8" r="0.55"/><circle cx="57.5" cy="446.5" r="0.55"/><circle cx="78.6" cy="403.5" r="0.55"/><circle cx="100.4" cy="445.9" r="0.55"/><circle cx="85.0" cy="447.2" r="0.55"/><circle cx="92.7" cy="410.5" r="0.55"/><circle cx="94.7" cy="361.8" r="0.55"/><circle cx="86.8" cy="377.4" r="0.55"/><circle cx="45.4" cy="435.9" r="0.55"/><circle cx="61.4" cy="405.0" r="0.55"/><circle cx="113.9" cy="412.9" r="0.55"/><circle cx="76.0" cy="409.2" r="0.55"/><circle cx="97.8" cy="434.5" r="0.55"/><circle cx="55.1" cy="413.2" r="0.55"/><circle cx="68.6" cy="386.3" r="0.55"/><circle cx="118.4" cy="408.2" r="0.55"/><circle cx="98.4" cy="432.2" r="0.55"/><circle cx="131.7" cy="402.1" r="0.55"/><circle cx="103.2" cy="408.0" r="0.55"/><circle cx="93.7" cy="425.8" r="0.55"/><circle cx="88.0" cy="410.7" r="0.55"/><circle cx="90.4" cy="449.4" r="0.55"/><circle cx="111.4" cy="443.3" r="0.55"/><circle cx="134.5" cy="384.7" r="0.55"/><circle cx="98.2" cy="449.6" r="0.55"/><circle cx="124.8" cy="373.0" r="0.55"/><circle cx="56.6" cy="402.0" r="0.55"/><circle cx="51.9" cy="382.9" r="0.55"/><circle cx="51.9" cy="423.6" r="0.55"/><circle cx="119.5" cy="445.2" r="0.55"/><circle cx="59.7" cy="428.0" r="0.55"/><circle cx="107.7" cy="373.6" r="0.55"/><circle cx="128.9" cy="451.9" r="0.55"/><circle cx="65.9" cy="450.5" r="0.55"/><circle cx="82.8" cy="406.3" r="0.55"/><circle cx="139.0" cy="439.1" r="0.55"/><circle cx="60.3" cy="401.0" r="0.55"/><circle cx="94.0" cy="392.2" r="0.55"/><circle cx="63.6" cy="390.3" r="0.55"/><circle cx="113.6" cy="361.9" r="0.55"/><circle cx="97.6" cy="401.8" r="0.55"/><circle cx="46.7" cy="391.5" r="0.55"/><circle cx="104.3" cy="408.7" r="0.55"/><circle cx="51.1" cy="453.6" r="0.55"/><circle cx="119.9" cy="452.3" r="0.55"/><circle cx="55.0" cy="385.2" r="0.55"/><circle cx="48.8" cy="434.0" r="0.55"/><circle cx="70.7" cy="372.3" r="0.55"/><circle cx="85.1" cy="446.6" r="0.55"/><circle cx="122.8" cy="384.6" r="0.55"/><circle cx="59.2" cy="447.3" r="0.55"/><circle cx="99.2" cy="426.5" r="0.55"/><circle cx="53.5" cy="365.5" r="0.55"/><circle cx="110.4" cy="400.4" r="0.55"/><circle cx="51.9" cy="449.1" r="0.55"/><circle cx="105.3" cy="436.2" r="0.55"/><circle cx="53.0" cy="441.3" r="0.55"/><circle cx="51.3" cy="442.0" r="0.55"/><circle cx="88.1" cy="392.2" r="0.55"/><circle cx="97.5" cy="448.0" r="0.55"/><circle cx="70.4" cy="372.3" r="0.55"/><circle cx="95.1" cy="382.7" r="0.55"/><circle cx="55.4" cy="375.3" r="0.55"/><circle cx="49.8" cy="379.2" r="0.55"/><circle cx="74.6" cy="389.0" r="0.55"/><circle cx="117.2" cy="387.5" r="0.55"/><circle cx="92.5" cy="376.9" r="0.55"/><circle cx="78.0" cy="361.7" r="0.55"/><circle cx="68.8" cy="361.5" r="0.55"/><circle cx="114.6" cy="412.3" r="0.55"/><circle cx="63.0" cy="405.1" r="0.55"/><circle cx="133.8" cy="370.1" r="0.55"/><circle cx="122.8" cy="401.1" r="0.55"/><circle cx="92.0" cy="439.3" r="0.55"/><circle cx="82.3" cy="408.1" r="0.55"/><circle cx="110.3" cy="453.3" r="0.55"/><circle cx="77.6" cy="439.1" r="0.55"/><circle cx="112.1" cy="420.4" r="0.55"/><circle cx="83.4" cy="393.0" r="0.55"/><circle cx="50.2" cy="372.3" r="0.55"/><circle cx="51.7" cy="430.4" r="0.55"/><circle cx="69.3" cy="375.5" r="0.55"/><circle cx="53.0" cy="439.9" r="0.55"/><circle cx="127.7" cy="423.7" r="0.55"/><circle cx="71.8" cy="383.0" r="0.55"/><circle cx="72.8" cy="403.6" r="0.55"/><circle cx="60.0" cy="402.4" r="0.55"/><circle cx="70.0" cy="451.4" r="0.55"/><circle cx="137.4" cy="412.0" r="0.55"/><circle cx="68.2" cy="451.7" r="0.55"/><circle cx="74.4" cy="393.9" r="0.55"/><circle cx="45.1" cy="396.3" r="0.55"/><circle cx="90.1" cy="407.8" r="0.55"/><circle cx="64.1" cy="407.9" r="0.55"/><circle cx="45.5" cy="385.1" r="0.55"/><circle cx="53.5" cy="398.0" r="0.55"/><circle cx="49.0" cy="362.1" r="0.55"/><circle cx="73.9" cy="382.1" r="0.55"/><circle cx="100.6" cy="410.3" r="0.55"/><circle cx="116.3" cy="422.5" r="0.55"/></g>
<g fill="#a9c9ea" opacity="0.6"><circle cx="101.4" cy="397.8" r="0.5"/><circle cx="119.8" cy="420.0" r="0.5"/><circle cx="129.1" cy="418.9" r="0.5"/><circle cx="87.7" cy="411.7" r="0.5"/><circle cx="107.7" cy="433.4" r="0.5"/><circle cx="117.6" cy="423.5" r="0.5"/><circle cx="87.3" cy="400.2" r="0.5"/><circle cx="85.8" cy="433.5" r="0.5"/><circle cx="110.7" cy="418.9" r="0.5"/><circle cx="114.4" cy="422.6" r="0.5"/><circle cx="107.7" cy="412.5" r="0.5"/><circle cx="116.3" cy="379.6" r="0.5"/><circle cx="120.5" cy="392.7" r="0.5"/><circle cx="120.1" cy="389.4" r="0.5"/><circle cx="107.2" cy="401.8" r="0.5"/><circle cx="106.3" cy="422.9" r="0.5"/><circle cx="122.2" cy="418.2" r="0.5"/><circle cx="115.4" cy="380.4" r="0.5"/><circle cx="88.1" cy="392.8" r="0.5"/><circle cx="120.9" cy="396.3" r="0.5"/><circle cx="117.0" cy="423.5" r="0.5"/><circle cx="117.2" cy="395.4" r="0.5"/><circle cx="108.4" cy="407.5" r="0.5"/><circle cx="105.6" cy="383.3" r="0.5"/><circle cx="129.2" cy="388.9" r="0.5"/><circle cx="104.7" cy="393.8" r="0.5"/><circle cx="91.5" cy="441.2" r="0.5"/><circle cx="91.6" cy="415.7" r="0.5"/><circle cx="87.8" cy="411.7" r="0.5"/><circle cx="125.1" cy="410.6" r="0.5"/><circle cx="92.7" cy="437.8" r="0.5"/><circle cx="104.8" cy="396.1" r="0.5"/><circle cx="87.7" cy="399.1" r="0.5"/><circle cx="97.4" cy="433.8" r="0.5"/><circle cx="126.2" cy="383.4" r="0.5"/><circle cx="129.6" cy="395.3" r="0.5"/><circle cx="100.5" cy="402.5" r="0.5"/><circle cx="99.8" cy="405.0" r="0.5"/><circle cx="85.6" cy="433.4" r="0.5"/><circle cx="95.7" cy="440.5" r="0.5"/><circle cx="93.7" cy="393.6" r="0.5"/><circle cx="108.1" cy="388.3" r="0.5"/><circle cx="131.7" cy="413.4" r="0.5"/><circle cx="120.3" cy="406.6" r="0.5"/><circle cx="121.4" cy="420.1" r="0.5"/><circle cx="131.0" cy="383.9" r="0.5"/><circle cx="106.0" cy="399.1" r="0.5"/><circle cx="96.4" cy="426.7" r="0.5"/><circle cx="116.1" cy="396.1" r="0.5"/><circle cx="110.7" cy="402.6" r="0.5"/><circle cx="91.4" cy="438.4" r="0.5"/><circle cx="107.3" cy="390.4" r="0.5"/><circle cx="104.7" cy="384.8" r="0.5"/><circle cx="93.2" cy="393.1" r="0.5"/><circle cx="121.2" cy="403.9" r="0.5"/><circle cx="102.8" cy="411.7" r="0.5"/><circle cx="100.7" cy="398.7" r="0.5"/><circle cx="107.7" cy="419.1" r="0.5"/><circle cx="127.5" cy="390.1" r="0.5"/><circle cx="94.9" cy="392.4" r="0.5"/><circle cx="102.0" cy="406.2" r="0.5"/><circle cx="128.0" cy="376.5" r="0.5"/><circle cx="81.8" cy="424.7" r="0.5"/><circle cx="129.3" cy="408.1" r="0.5"/><circle cx="101.5" cy="439.9" r="0.5"/><circle cx="108.7" cy="422.7" r="0.5"/><circle cx="115.6" cy="428.5" r="0.5"/><circle cx="105.2" cy="413.6" r="0.5"/><circle cx="82.2" cy="429.8" r="0.5"/><circle cx="92.8" cy="439.4" r="0.5"/><circle cx="115.5" cy="396.3" r="0.5"/><circle cx="87.0" cy="392.6" r="0.5"/><circle cx="115.0" cy="423.9" r="0.5"/><circle cx="108.8" cy="415.8" r="0.5"/><circle cx="101.3" cy="390.7" r="0.5"/><circle cx="96.6" cy="407.2" r="0.5"/><circle cx="132.7" cy="420.1" r="0.5"/><circle cx="128.6" cy="408.3" r="0.5"/><circle cx="92.9" cy="392.3" r="0.5"/><circle cx="107.4" cy="422.2" r="0.5"/></g>
<g fill="#8893a0" opacity="0.5"><circle cx="75.7" cy="391.6" r="0.55"/><circle cx="76.3" cy="368.3" r="0.55"/><circle cx="80.5" cy="385.7" r="0.55"/><circle cx="81.3" cy="369.4" r="0.55"/><circle cx="59.2" cy="386.3" r="0.55"/><circle cx="61.9" cy="392.5" r="0.55"/><circle cx="75.6" cy="392.4" r="0.55"/><circle cx="58.9" cy="393.2" r="0.55"/><circle cx="85.5" cy="372.5" r="0.55"/><circle cx="57.9" cy="391.9" r="0.55"/><circle cx="78.6" cy="363.0" r="0.55"/><circle cx="75.6" cy="374.1" r="0.55"/><circle cx="86.4" cy="366.0" r="0.55"/><circle cx="64.2" cy="388.3" r="0.55"/><circle cx="81.4" cy="375.8" r="0.55"/><circle cx="64.8" cy="391.4" r="0.55"/><circle cx="84.2" cy="363.0" r="0.55"/><circle cx="66.2" cy="388.0" r="0.55"/><circle cx="79.4" cy="363.3" r="0.55"/><circle cx="85.0" cy="370.2" r="0.55"/><circle cx="60.7" cy="384.9" r="0.55"/><circle cx="85.9" cy="362.8" r="0.55"/><circle cx="85.3" cy="367.9" r="0.55"/><circle cx="80.7" cy="385.6" r="0.55"/><circle cx="79.9" cy="364.5" r="0.55"/><circle cx="58.3" cy="386.1" r="0.55"/><circle cx="63.1" cy="393.4" r="0.55"/><circle cx="77.3" cy="376.3" r="0.55"/><circle cx="74.0" cy="383.6" r="0.55"/><circle cx="78.7" cy="389.1" r="0.55"/><circle cx="75.6" cy="365.9" r="0.55"/><circle cx="82.1" cy="371.4" r="0.55"/><circle cx="78.3" cy="368.4" r="0.55"/><circle cx="56.7" cy="390.3" r="0.55"/><circle cx="65.7" cy="393.8" r="0.55"/><circle cx="80.9" cy="382.9" r="0.55"/><circle cx="68.6" cy="388.2" r="0.55"/><circle cx="83.0" cy="376.4" r="0.55"/><circle cx="60.6" cy="386.9" r="0.55"/><circle cx="86.0" cy="365.4" r="0.55"/><circle cx="73.1" cy="381.8" r="0.55"/><circle cx="75.1" cy="368.5" r="0.55"/><circle cx="76.1" cy="367.9" r="0.55"/><circle cx="80.4" cy="379.5" r="0.55"/><circle cx="57.1" cy="384.3" r="0.55"/><circle cx="62.4" cy="392.5" r="0.55"/><circle cx="77.9" cy="368.5" r="0.55"/><circle cx="66.7" cy="388.3" r="0.55"/><circle cx="66.0" cy="390.3" r="0.55"/><circle cx="74.7" cy="391.1" r="0.55"/><circle cx="70.3" cy="391.6" r="0.55"/><circle cx="81.5" cy="367.1" r="0.55"/><circle cx="80.1" cy="369.1" r="0.55"/><circle cx="66.0" cy="389.1" r="0.55"/><circle cx="81.7" cy="367.9" r="0.55"/><circle cx="77.8" cy="390.7" r="0.55"/><circle cx="79.0" cy="363.2" r="0.55"/><circle cx="82.0" cy="365.8" r="0.55"/><circle cx="73.2" cy="379.6" r="0.55"/><circle cx="66.8" cy="383.1" r="0.55"/><circle cx="79.3" cy="387.0" r="0.55"/><circle cx="78.1" cy="386.9" r="0.55"/><circle cx="86.2" cy="366.4" r="0.55"/><circle cx="78.1" cy="388.1" r="0.55"/><circle cx="58.2" cy="393.4" r="0.55"/><circle cx="69.2" cy="392.6" r="0.55"/><circle cx="84.9" cy="367.3" r="0.55"/><circle cx="79.0" cy="367.1" r="0.55"/><circle cx="84.2" cy="370.8" r="0.55"/><circle cx="81.2" cy="366.6" r="0.55"/><circle cx="69.6" cy="391.4" r="0.55"/><circle cx="57.0" cy="392.0" r="0.55"/><circle cx="76.1" cy="390.7" r="0.55"/><circle cx="57.2" cy="387.1" r="0.55"/><circle cx="83.3" cy="379.8" r="0.55"/><circle cx="72.5" cy="390.2" r="0.55"/><circle cx="54.9" cy="393.8" r="0.55"/><circle cx="74.3" cy="374.6" r="0.55"/><circle cx="80.5" cy="370.5" r="0.55"/><circle cx="64.3" cy="386.5" r="0.55"/><circle cx="78.5" cy="363.5" r="0.55"/><circle cx="81.3" cy="370.1" r="0.55"/><circle cx="72.7" cy="383.2" r="0.55"/><circle cx="73.8" cy="375.8" r="0.55"/><circle cx="70.0" cy="390.7" r="0.55"/><circle cx="74.1" cy="377.2" r="0.55"/><circle cx="56.0" cy="392.0" r="0.55"/><circle cx="74.9" cy="376.2" r="0.55"/><circle cx="60.2" cy="390.9" r="0.55"/><circle cx="53.2" cy="386.9" r="0.55"/><circle cx="85.8" cy="366.6" r="0.55"/><circle cx="69.8" cy="382.5" r="0.55"/><circle cx="81.1" cy="367.6" r="0.55"/><circle cx="52.8" cy="390.5" r="0.55"/><circle cx="80.0" cy="384.9" r="0.55"/><circle cx="78.6" cy="376.9" r="0.55"/><circle cx="78.4" cy="376.5" r="0.55"/><circle cx="63.4" cy="386.0" r="0.55"/><circle cx="76.7" cy="389.1" r="0.55"/><circle cx="77.3" cy="370.5" r="0.55"/><circle cx="80.2" cy="378.7" r="0.55"/><circle cx="60.8" cy="382.5" r="0.55"/><circle cx="83.6" cy="362.5" r="0.55"/><circle cx="78.6" cy="372.5" r="0.55"/><circle cx="83.6" cy="372.5" r="0.55"/><circle cx="59.8" cy="391.0" r="0.55"/><circle cx="74.3" cy="384.2" r="0.55"/><circle cx="68.4" cy="388.9" r="0.55"/><circle cx="76.8" cy="389.4" r="0.55"/><circle cx="67.2" cy="385.2" r="0.55"/><circle cx="53.9" cy="391.1" r="0.55"/><circle cx="54.9" cy="391.7" r="0.55"/><circle cx="76.6" cy="382.3" r="0.55"/><circle cx="76.8" cy="385.6" r="0.55"/><circle cx="64.4" cy="388.2" r="0.55"/><circle cx="53.4" cy="389.8" r="0.55"/><circle cx="74.5" cy="388.4" r="0.55"/><circle cx="79.0" cy="368.6" r="0.55"/><circle cx="61.5" cy="384.9" r="0.55"/><circle cx="82.5" cy="381.8" r="0.55"/><circle cx="67.1" cy="386.7" r="0.55"/><circle cx="63.8" cy="384.5" r="0.55"/><circle cx="82.9" cy="364.9" r="0.55"/><circle cx="81.3" cy="367.5" r="0.55"/><circle cx="69.2" cy="387.5" r="0.55"/><circle cx="63.8" cy="388.6" r="0.55"/><circle cx="60.6" cy="392.2" r="0.55"/><circle cx="76.9" cy="377.9" r="0.55"/><circle cx="54.0" cy="387.2" r="0.55"/><circle cx="76.8" cy="387.2" r="0.55"/><circle cx="83.9" cy="364.8" r="0.55"/><circle cx="83.9" cy="362.8" r="0.55"/><circle cx="65.0" cy="390.3" r="0.55"/><circle cx="70.7" cy="386.1" r="0.55"/><circle cx="78.9" cy="382.7" r="0.55"/><circle cx="56.7" cy="389.0" r="0.55"/><circle cx="75.5" cy="385.7" r="0.55"/><circle cx="79.6" cy="380.5" r="0.55"/><circle cx="83.7" cy="369.6" r="0.55"/><circle cx="77.0" cy="389.0" r="0.55"/><circle cx="54.8" cy="392.8" r="0.55"/><circle cx="78.1" cy="375.9" r="0.55"/><circle cx="65.8" cy="387.3" r="0.55"/><circle cx="76.7" cy="378.0" r="0.55"/><circle cx="74.4" cy="376.8" r="0.55"/><circle cx="66.0" cy="385.7" r="0.55"/><circle cx="84.6" cy="375.8" r="0.55"/><circle cx="72.2" cy="386.0" r="0.55"/><circle cx="77.7" cy="390.2" r="0.55"/><circle cx="79.6" cy="384.4" r="0.55"/><circle cx="74.7" cy="376.5" r="0.55"/><circle cx="62.6" cy="382.1" r="0.55"/><circle cx="79.9" cy="384.8" r="0.55"/><circle cx="74.0" cy="375.1" r="0.55"/><circle cx="76.0" cy="391.8" r="0.55"/><circle cx="79.8" cy="374.4" r="0.55"/><circle cx="69.1" cy="393.2" r="0.55"/><circle cx="57.0" cy="387.0" r="0.55"/><circle cx="71.0" cy="385.0" r="0.55"/><circle cx="70.0" cy="382.5" r="0.55"/><circle cx="81.7" cy="378.7" r="0.55"/><circle cx="66.2" cy="392.3" r="0.55"/><circle cx="58.8" cy="383.9" r="0.55"/><circle cx="65.5" cy="386.4" r="0.55"/><circle cx="55.5" cy="393.5" r="0.55"/><circle cx="66.6" cy="384.3" r="0.55"/><circle cx="59.3" cy="385.7" r="0.55"/><circle cx="59.1" cy="387.6" r="0.55"/><circle cx="55.8" cy="386.9" r="0.55"/><circle cx="81.0" cy="382.3" r="0.55"/><circle cx="59.4" cy="392.8" r="0.55"/><circle cx="64.1" cy="382.4" r="0.55"/><circle cx="81.8" cy="373.4" r="0.55"/><circle cx="82.5" cy="370.6" r="0.55"/><circle cx="66.9" cy="382.4" r="0.55"/><circle cx="75.4" cy="373.6" r="0.55"/><circle cx="53.1" cy="388.5" r="0.55"/><circle cx="56.2" cy="388.6" r="0.55"/><circle cx="59.6" cy="386.8" r="0.55"/><circle cx="57.2" cy="390.5" r="0.55"/><circle cx="73.5" cy="387.0" r="0.55"/><circle cx="75.7" cy="390.6" r="0.55"/><circle cx="58.3" cy="384.2" r="0.55"/><circle cx="70.6" cy="385.7" r="0.55"/><circle cx="67.2" cy="390.2" r="0.55"/><circle cx="71.0" cy="389.6" r="0.55"/><circle cx="75.6" cy="388.9" r="0.55"/><circle cx="86.5" cy="364.4" r="0.55"/><circle cx="74.6" cy="382.4" r="0.55"/><circle cx="76.3" cy="391.8" r="0.55"/><circle cx="63.2" cy="393.4" r="0.55"/><circle cx="84.2" cy="363.1" r="0.55"/><circle cx="77.6" cy="382.0" r="0.55"/><circle cx="63.5" cy="389.6" r="0.55"/><circle cx="70.4" cy="386.7" r="0.55"/><circle cx="81.6" cy="371.4" r="0.55"/><circle cx="81.6" cy="374.9" r="0.55"/><circle cx="69.7" cy="393.2" r="0.55"/><circle cx="75.2" cy="387.3" r="0.55"/><circle cx="74.5" cy="387.1" r="0.55"/></g>
<path d="M45.5,412.5 L51.5,410.4 L57.5,412.5 L61.0,417.0 L63.0,423.0 L68.0,426.5 L70.5,430.4 L67.0,434.5 L61.0,433.5 L56.5,430.3 L52.0,426.0 L48.5,420.5 L45.5,416.7 Z" fill="#e2bf74" opacity="0.85" />
<path d="M74.8,416.7 L80.0,415.6 L81.1,421.9 L76.9,423.0 Z" fill="#e6c690" opacity="0.6" />
<path d="M88.0,430.0 L95.0,428.0 L99.5,436.0 L98.0,446.0 L91.0,447.0 L87.0,441.0 Z" fill="#e3bf70" opacity="0.6" />
<path d="M95.0,383.0 L99.0,379.0 L103.0,380.0 L103.5,383.0 L101.0,388.0 L99.0,392.0 L95.0,392.0 L93.5,388.0 Z" fill="#ea6020" opacity="0.85" />
<path d="M108.0,363.5 L112.0,363.0 L111.5,366.0 L109.5,367.5 Z" fill="#ea6020" opacity="0.85" />
<g fill="#ea6020" opacity="0.75"><circle cx="70.3" cy="403.8" r="0.6"/><circle cx="57.7" cy="402.1" r="0.6"/><circle cx="70.8" cy="404.3" r="0.6"/><circle cx="66.9" cy="405.5" r="0.6"/><circle cx="70.6" cy="404.3" r="0.6"/><circle cx="66.3" cy="404.4" r="0.6"/><circle cx="67.4" cy="404.2" r="0.6"/><circle cx="67.2" cy="401.5" r="0.6"/><circle cx="67.0" cy="403.2" r="0.6"/><circle cx="68.4" cy="400.7" r="0.6"/><circle cx="59.7" cy="400.3" r="0.6"/><circle cx="66.8" cy="402.6" r="0.6"/><circle cx="69.3" cy="405.5" r="0.6"/><circle cx="65.4" cy="401.8" r="0.6"/><circle cx="61.5" cy="403.0" r="0.6"/><circle cx="61.8" cy="403.0" r="0.6"/><circle cx="57.8" cy="404.0" r="0.6"/><circle cx="57.6" cy="400.8" r="0.6"/><circle cx="69.2" cy="404.0" r="0.6"/><circle cx="70.8" cy="403.1" r="0.6"/><circle cx="63.2" cy="400.7" r="0.6"/><circle cx="66.7" cy="401.5" r="0.6"/><circle cx="59.3" cy="400.1" r="0.6"/><circle cx="58.8" cy="406.8" r="0.6"/><circle cx="58.3" cy="406.1" r="0.6"/><circle cx="58.9" cy="400.1" r="0.6"/><circle cx="67.8" cy="401.7" r="0.6"/><circle cx="68.0" cy="401.3" r="0.6"/><circle cx="67.7" cy="406.0" r="0.6"/><circle cx="67.9" cy="400.6" r="0.6"/><circle cx="66.4" cy="405.0" r="0.6"/><circle cx="63.9" cy="406.5" r="0.6"/><circle cx="60.8" cy="406.8" r="0.6"/><circle cx="67.8" cy="400.1" r="0.6"/><circle cx="69.3" cy="400.6" r="0.6"/><circle cx="61.7" cy="405.1" r="0.6"/><circle cx="59.5" cy="406.0" r="0.6"/><circle cx="64.3" cy="400.4" r="0.6"/><circle cx="62.5" cy="404.0" r="0.6"/><circle cx="63.6" cy="404.7" r="0.6"/><circle cx="59.2" cy="405.6" r="0.6"/><circle cx="62.4" cy="404.5" r="0.6"/><circle cx="66.4" cy="402.9" r="0.6"/><circle cx="62.8" cy="405.5" r="0.6"/><circle cx="71.2" cy="405.5" r="0.6"/><circle cx="65.5" cy="402.0" r="0.6"/><circle cx="67.5" cy="405.8" r="0.6"/><circle cx="62.0" cy="404.2" r="0.6"/><circle cx="71.7" cy="405.8" r="0.6"/><circle cx="66.0" cy="402.2" r="0.6"/><circle cx="63.4" cy="406.2" r="0.6"/><circle cx="62.7" cy="404.8" r="0.6"/><circle cx="66.0" cy="406.3" r="0.6"/><circle cx="69.1" cy="402.0" r="0.6"/><circle cx="63.3" cy="404.1" r="0.6"/></g>
<g fill="#ef8a60" opacity="0.5"><circle cx="78.5" cy="404.1" r="0.5"/><circle cx="76.6" cy="399.9" r="0.5"/><circle cx="78.8" cy="403.6" r="0.5"/><circle cx="76.4" cy="403.6" r="0.5"/><circle cx="73.6" cy="403.3" r="0.5"/><circle cx="79.5" cy="399.6" r="0.5"/><circle cx="76.9" cy="402.7" r="0.5"/><circle cx="75.7" cy="399.4" r="0.5"/><circle cx="74.0" cy="403.3" r="0.5"/><circle cx="78.3" cy="401.2" r="0.5"/><circle cx="78.2" cy="399.6" r="0.5"/><circle cx="76.6" cy="404.3" r="0.5"/><circle cx="79.1" cy="401.7" r="0.5"/><circle cx="75.8" cy="402.1" r="0.5"/><circle cx="73.5" cy="399.3" r="0.5"/></g>
<path d="M94.0,397.0 L100.0,401.0 L104.0,408.0 L103.0,414.0 L99.0,417.0 L100.0,410.0 L97.0,403.0 L93.0,400.0 Z" fill="#f2e54a" opacity="0.6" />
<path d="M72.6,442.0 L77.9,440.9 L80.0,446.2 L76.9,448.3 L73.2,446.2 Z" fill="#5a86cf" opacity="0.85" />
<g fill="#6a8fc0" opacity="0.7"><circle cx="83.3" cy="425.9" r="0.6"/><circle cx="84.5" cy="425.0" r="0.6"/><circle cx="84.8" cy="424.6" r="0.6"/><circle cx="82.7" cy="425.4" r="0.6"/><circle cx="86.2" cy="423.4" r="0.6"/><circle cx="88.1" cy="424.4" r="0.6"/><circle cx="86.0" cy="422.8" r="0.6"/><circle cx="87.5" cy="424.0" r="0.6"/><circle cx="87.7" cy="427.7" r="0.6"/><circle cx="83.4" cy="422.3" r="0.6"/><circle cx="82.6" cy="421.4" r="0.6"/><circle cx="85.9" cy="427.1" r="0.6"/><circle cx="86.2" cy="423.8" r="0.6"/><circle cx="83.8" cy="425.0" r="0.6"/><circle cx="86.5" cy="427.7" r="0.6"/><circle cx="86.7" cy="423.8" r="0.6"/><circle cx="83.8" cy="423.5" r="0.6"/><circle cx="87.5" cy="426.0" r="0.6"/><circle cx="82.4" cy="422.0" r="0.6"/><circle cx="87.3" cy="427.6" r="0.6"/><circle cx="86.7" cy="423.1" r="0.6"/><circle cx="86.1" cy="426.3" r="0.6"/><circle cx="82.7" cy="423.3" r="0.6"/><circle cx="83.8" cy="421.9" r="0.6"/><circle cx="83.7" cy="422.0" r="0.6"/></g>
<rect x="41" y="354.8" width="101.3" height="104" fill="none" stroke="#1f1f1f" stroke-width="1.1"/>
<line x1="37.80" y1="359.80" x2="41.00" y2="359.80" stroke="#1f1f1f" stroke-width="1"/>
<text x="35.20" y="362.80" font-size="9.2" text-anchor="end" fill="#2b2b2b" textLength="10.00" lengthAdjust="spacingAndGlyphs" >20</text>
<line x1="37.80" y1="382.50" x2="41.00" y2="382.50" stroke="#1f1f1f" stroke-width="1"/>
<text x="35.20" y="385.50" font-size="9.2" text-anchor="end" fill="#2b2b2b" textLength="10.00" lengthAdjust="spacingAndGlyphs" >10</text>
<line x1="37.80" y1="405.30" x2="41.00" y2="405.30" stroke="#1f1f1f" stroke-width="1"/>
<text x="35.20" y="408.30" font-size="9.2" text-anchor="end" fill="#2b2b2b" textLength="5.60" lengthAdjust="spacingAndGlyphs" >0</text>
<line x1="37.80" y1="428.00" x2="41.00" y2="428.00" stroke="#1f1f1f" stroke-width="1"/>
<text x="35.20" y="431.00" font-size="9.2" text-anchor="end" fill="#2b2b2b" textLength="14.60" lengthAdjust="spacingAndGlyphs" >−10</text>
<line x1="37.80" y1="450.50" x2="41.00" y2="450.50" stroke="#1f1f1f" stroke-width="1"/>
<text x="35.20" y="453.50" font-size="9.2" text-anchor="end" fill="#2b2b2b" textLength="14.60" lengthAdjust="spacingAndGlyphs" >−20</text>
<line x1="45.60" y1="459.20" x2="45.60" y2="462.20" stroke="#1f1f1f" stroke-width="1"/>
<text x="43.00" y="472.90" font-size="9.2" text-anchor="middle" fill="#2b2b2b" textLength="14.40" lengthAdjust="spacingAndGlyphs" >−20</text>
<line x1="67.50" y1="459.20" x2="67.50" y2="462.20" stroke="#1f1f1f" stroke-width="1"/>
<text x="64.90" y="472.90" font-size="9.2" text-anchor="middle" fill="#2b2b2b" textLength="14.40" lengthAdjust="spacingAndGlyphs" >−10</text>
<line x1="89.40" y1="459.20" x2="89.40" y2="462.20" stroke="#1f1f1f" stroke-width="1"/>
<text x="89.40" y="472.90" font-size="9.2" text-anchor="middle" fill="#2b2b2b" textLength="5.60" lengthAdjust="spacingAndGlyphs" >0</text>
<line x1="111.30" y1="459.20" x2="111.30" y2="462.20" stroke="#1f1f1f" stroke-width="1"/>
<text x="111.30" y="472.90" font-size="9.2" text-anchor="middle" fill="#2b2b2b" textLength="10.00" lengthAdjust="spacingAndGlyphs" >10</text>
<line x1="133.20" y1="459.20" x2="133.20" y2="462.20" stroke="#1f1f1f" stroke-width="1"/>
<text x="133.20" y="472.90" font-size="9.2" text-anchor="middle" fill="#2b2b2b" textLength="10.00" lengthAdjust="spacingAndGlyphs" >20</text>
<line x1="153.70" y1="459.20" x2="153.70" y2="462.20" stroke="#1f1f1f" stroke-width="1"/>
<text x="151.10" y="472.90" font-size="9.2" text-anchor="middle" fill="#2b2b2b" textLength="14.40" lengthAdjust="spacingAndGlyphs" >−20</text>
<line x1="175.60" y1="459.20" x2="175.60" y2="462.20" stroke="#1f1f1f" stroke-width="1"/>
<text x="173.00" y="472.90" font-size="9.2" text-anchor="middle" fill="#2b2b2b" textLength="14.40" lengthAdjust="spacingAndGlyphs" >−10</text>
<line x1="197.50" y1="459.20" x2="197.50" y2="462.20" stroke="#1f1f1f" stroke-width="1"/>
<text x="197.50" y="472.90" font-size="9.2" text-anchor="middle" fill="#2b2b2b" textLength="5.60" lengthAdjust="spacingAndGlyphs" >0</text>
<line x1="219.40" y1="459.20" x2="219.40" y2="462.20" stroke="#1f1f1f" stroke-width="1"/>
<text x="219.40" y="472.90" font-size="9.2" text-anchor="middle" fill="#2b2b2b" textLength="10.00" lengthAdjust="spacingAndGlyphs" >10</text>
<line x1="241.30" y1="459.20" x2="241.30" y2="462.20" stroke="#1f1f1f" stroke-width="1"/>
<text x="241.30" y="472.90" font-size="9.2" text-anchor="middle" fill="#2b2b2b" textLength="10.00" lengthAdjust="spacingAndGlyphs" >20</text>
<text x="14.88" y="406.95" font-size="9.4" text-anchor="middle" fill="#2b2b2b" stroke="#2b2b2b" stroke-width="0.25" textLength="19.40" lengthAdjust="spacingAndGlyphs" transform="rotate(-90 14.88 406.95)" >tSNE2</text>
<text x="135.35" y="485.80" font-size="10.06" text-anchor="start" fill="#2b2b2b" stroke="#2b2b2b" stroke-width="0.25" textLength="19.70" lengthAdjust="spacingAndGlyphs" >tSNE1</text>
<circle cx="31.8" cy="495.2" r="3.9" fill="#f7ea12"/>
<text x="39.05" y="498.20" font-size="9.2" text-anchor="start" fill="#2b2b2b" textLength="23.40" lengthAdjust="spacingAndGlyphs" >B cells</text>
<circle cx="71.8" cy="495.2" r="3.9" fill="#6ca6dc"/>
<text x="78.85" y="498.20" font-size="9.2" text-anchor="start" fill="#2b2b2b" textLength="21.10" lengthAdjust="spacingAndGlyphs" >Blasts</text>
<circle cx="109.3" cy="495.2" r="3.9" fill="#919ba5"/>
<text x="115.85" y="498.20" font-size="9.2" text-anchor="start" fill="#2b2b2b" textLength="42.60" lengthAdjust="spacingAndGlyphs" >Erythroblasts</text>
<circle cx="168.8" cy="495.2" r="3.9" fill="#e6c87c"/>
<text x="175.35" y="498.20" font-size="9.2" text-anchor="start" fill="#2b2b2b" textLength="43.10" lengthAdjust="spacingAndGlyphs" >Granulocytes</text>
<circle cx="31.3" cy="509.7" r="3.9" fill="#ea6020"/>
<text x="39.05" y="512.70" font-size="9.2" text-anchor="start" fill="#2b2b2b" textLength="21.40" lengthAdjust="spacingAndGlyphs" >T cells</text>
<circle cx="70.8" cy="509.7" r="3.9" fill="#e6e6b4"/>
<text x="77.05" y="512.70" font-size="9.2" text-anchor="start" fill="#2b2b2b" textLength="36.40" lengthAdjust="spacingAndGlyphs" >Monocytes</text>
<circle cx="123.3" cy="509.7" r="3.9" fill="#2c5fae"/>
<text x="129.55" y="512.70" font-size="8.6" fill="#2b2b2b"  textLength="57.9" lengthAdjust="spacingAndGlyphs">CD11b<tspan font-size="5.8" dy="-3.2">−</tspan><tspan dy="3.2"> NK cells</tspan></text>
<circle cx="197.5" cy="509.7" r="3.9" fill="#e3442a"/>
<text x="204.05" y="512.70" font-size="8.6" fill="#2b2b2b"  textLength="58.9" lengthAdjust="spacingAndGlyphs">CD11b<tspan font-size="5.8" dy="-3.2">+</tspan><tspan dy="3.2"> NK cells</tspan></text>
<line x1="290.10" y1="357.00" x2="290.10" y2="447.90" stroke="#1f1f1f" stroke-width="1"/>
<line x1="289.60" y1="447.40" x2="379.20" y2="447.40" stroke="#1f1f1f" stroke-width="1"/>
<line x1="287.10" y1="447.40" x2="290.10" y2="447.40" stroke="#1f1f1f" stroke-width="1"/>
<text x="284.70" y="450.40" font-size="9.2" text-anchor="end" fill="#2b2b2b" textLength="4.78" lengthAdjust="spacingAndGlyphs" >0</text>
<line x1="287.10" y1="418.20" x2="290.10" y2="418.20" stroke="#1f1f1f" stroke-width="1"/>
<text x="284.70" y="421.20" font-size="9.2" text-anchor="end" fill="#2b2b2b" textLength="4.78" lengthAdjust="spacingAndGlyphs" >1</text>
<line x1="287.10" y1="389.00" x2="290.10" y2="389.00" stroke="#1f1f1f" stroke-width="1"/>
<text x="284.70" y="392.00" font-size="9.2" text-anchor="end" fill="#2b2b2b" textLength="4.78" lengthAdjust="spacingAndGlyphs" >2</text>
<line x1="287.10" y1="359.80" x2="290.10" y2="359.80" stroke="#1f1f1f" stroke-width="1"/>
<text x="284.70" y="362.80" font-size="9.2" text-anchor="end" fill="#2b2b2b" textLength="4.78" lengthAdjust="spacingAndGlyphs" >3</text>
<rect x="303.10" y="406.30" width="24.50" height="40.80" fill="#0e4e86"/>
<rect x="341.10" y="415.50" width="24.70" height="31.60" fill="#c70428"/>
<line x1="315.30" y1="388.20" x2="315.30" y2="415.00" stroke="#1f1f1f" stroke-width="1"/>
<line x1="309.00" y1="388.20" x2="321.60" y2="388.20" stroke="#1f1f1f" stroke-width="1"/>
<line x1="309.00" y1="415.00" x2="321.60" y2="415.00" stroke="#1f1f1f" stroke-width="1"/>
<line x1="353.50" y1="372.30" x2="353.50" y2="432.20" stroke="#1f1f1f" stroke-width="1"/>
<line x1="347.20" y1="372.30" x2="359.80" y2="372.30" stroke="#1f1f1f" stroke-width="1"/>
<line x1="347.20" y1="432.20" x2="359.80" y2="432.20" stroke="#1f1f1f" stroke-width="1"/>
<line x1="315.30" y1="447.40" x2="315.30" y2="450.40" stroke="#1f1f1f" stroke-width="1"/>
<line x1="353.50" y1="447.40" x2="353.50" y2="450.40" stroke="#1f1f1f" stroke-width="1"/>
<text x="290.55" y="460.80" font-size="9.2" text-anchor="start" fill="#2b2b2b" textLength="49.60" lengthAdjust="spacingAndGlyphs" >Healthy adults</text>
<text x="344.95" y="460.80" font-size="9.2" text-anchor="start" fill="#2b2b2b" textLength="18.20" lengthAdjust="spacingAndGlyphs" >AML</text>
<line x1="318.40" y1="360.80" x2="353.50" y2="360.80" stroke="#1f1f1f" stroke-width="1"/>
<text x="335.40" y="358.00" font-size="8.99" text-anchor="middle" fill="#2b2b2b" textLength="8.87" lengthAdjust="spacingAndGlyphs" >ns</text>
<text x="272.80" y="398.40" font-size="7.7" text-anchor="middle" fill="#2b2b2b" stroke="#2b2b2b" stroke-width="0.25" textLength="73.10" lengthAdjust="spacingAndGlyphs" transform="rotate(-90 272.80 398.40)" >Frequency of NK cells</text>
<line x1="424.10" y1="357.00" x2="424.10" y2="447.90" stroke="#1f1f1f" stroke-width="1"/>
<line x1="423.60" y1="447.40" x2="513.00" y2="447.40" stroke="#1f1f1f" stroke-width="1"/>
<line x1="421.10" y1="447.40" x2="424.10" y2="447.40" stroke="#1f1f1f" stroke-width="1"/>
<text x="418.60" y="450.40" font-size="9.2" text-anchor="end" fill="#2b2b2b" textLength="4.78" lengthAdjust="spacingAndGlyphs" >0</text>
<line x1="421.10" y1="418.20" x2="424.10" y2="418.20" stroke="#1f1f1f" stroke-width="1"/>
<text x="418.60" y="421.20" font-size="9.2" text-anchor="end" fill="#2b2b2b" textLength="4.78" lengthAdjust="spacingAndGlyphs" >5</text>
<line x1="421.10" y1="389.00" x2="424.10" y2="389.00" stroke="#1f1f1f" stroke-width="1"/>
<text x="418.60" y="392.00" font-size="9.2" text-anchor="end" fill="#2b2b2b" textLength="9.57" lengthAdjust="spacingAndGlyphs" >10</text>
<line x1="421.10" y1="359.80" x2="424.10" y2="359.80" stroke="#1f1f1f" stroke-width="1"/>
<text x="418.60" y="362.80" font-size="9.2" text-anchor="end" fill="#2b2b2b" textLength="9.57" lengthAdjust="spacingAndGlyphs" >15</text>
<rect x="437.50" y="381.30" width="23.80" height="65.80" fill="#0e4e86"/>
<rect x="475.60" y="414.30" width="24.50" height="32.80" fill="#c70428"/>
<line x1="449.40" y1="367.70" x2="449.40" y2="393.90" stroke="#1f1f1f" stroke-width="1"/>
<line x1="443.10" y1="367.70" x2="455.70" y2="367.70" stroke="#1f1f1f" stroke-width="1"/>
<line x1="443.10" y1="393.90" x2="455.70" y2="393.90" stroke="#1f1f1f" stroke-width="1"/>
<line x1="487.30" y1="378.40" x2="487.30" y2="428.40" stroke="#1f1f1f" stroke-width="1"/>
<line x1="481.00" y1="378.40" x2="493.60" y2="378.40" stroke="#1f1f1f" stroke-width="1"/>
<line x1="481.00" y1="428.40" x2="493.60" y2="428.40" stroke="#1f1f1f" stroke-width="1"/>
<line x1="449.40" y1="447.40" x2="449.40" y2="450.40" stroke="#1f1f1f" stroke-width="1"/>
<line x1="487.30" y1="447.40" x2="487.30" y2="450.40" stroke="#1f1f1f" stroke-width="1"/>
<text x="424.65" y="460.80" font-size="9.2" text-anchor="start" fill="#2b2b2b" textLength="49.80" lengthAdjust="spacingAndGlyphs" >Healthy adults</text>
<text x="478.75" y="460.80" font-size="9.2" text-anchor="start" fill="#2b2b2b" textLength="17.50" lengthAdjust="spacingAndGlyphs" >AML</text>
<line x1="452.70" y1="361.10" x2="487.80" y2="361.10" stroke="#1f1f1f" stroke-width="1"/>
<text x="470.20" y="360.60" font-size="8.5" text-anchor="middle" fill="#111" stroke="#111" stroke-width="0.4" >*</text>
<text x="402.50" y="403.40" font-size="7.7" text-anchor="middle" fill="#2b2b2b" stroke="#2b2b2b" stroke-width="0.25" textLength="61.30" lengthAdjust="spacingAndGlyphs" transform="rotate(-90 402.50 403.40)" >Frequency of T cells</text>
</svg></div></body></html>
